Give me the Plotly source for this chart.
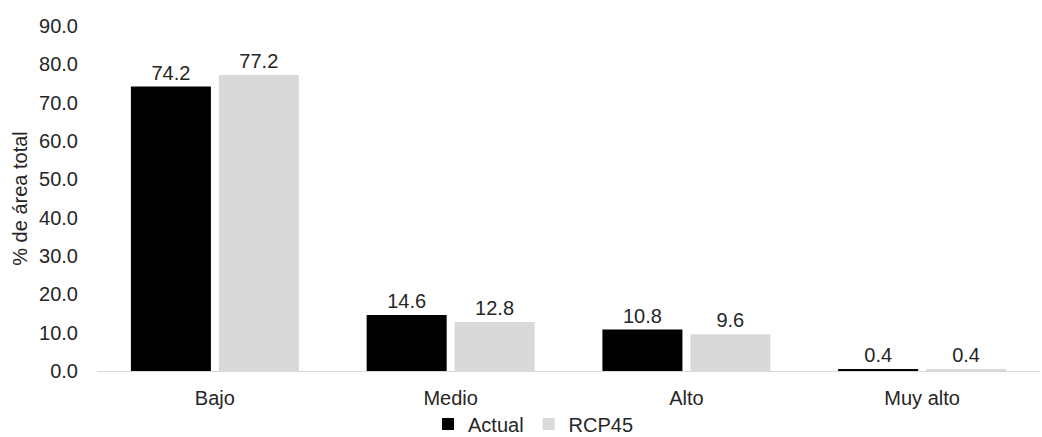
import plotly.graph_objects as go

# Categorías de peligro y porcentaje del área total por escenario
categorias = ["Bajo", "Medio", "Alto", "Muy alto"]
actual = [74.2, 14.6, 10.8, 0.4]
rcp45 = [77.2, 12.8, 9.6, 0.4]

FONT = "Liberation Sans, Arial, sans-serif"
FS = 20
TXT = "#262626"

fig = go.Figure()
fig.add_trace(go.Bar(
    name="Actual", x=categorias, y=actual,
    marker=dict(color="#000000", line=dict(width=0)),
    text=[f"{v:.1f}" for v in actual], textposition="outside",
    textfont=dict(color=TXT, size=FS, family=FONT),
    cliponaxis=False,
))
fig.add_trace(go.Bar(
    name="RCP45", x=categorias, y=rcp45,
    marker=dict(color="#d9d9d9", line=dict(width=0)),
    text=[f"{v:.1f}" for v in rcp45], textposition="outside",
    textfont=dict(color=TXT, size=FS, family=FONT),
    cliponaxis=False,
))

fig.update_layout(
    width=1042, height=437,
    margin=dict(l=97, r=2, t=26, b=66, autoexpand=False),
    paper_bgcolor="white", plot_bgcolor="white",
    font=dict(family=FONT, size=FS, color=TXT),
    barmode="group", bargap=0.254, bargroupgap=0.09,
    showlegend=True,
    legend=dict(
        orientation="h", xref="container", yref="container",
        x=0.512, xanchor="center", y=0.03, yanchor="middle",
        bgcolor="rgba(0,0,0,0)",
        font=dict(size=FS, color=TXT),
        itemwidth=30, tracegroupgap=0,
    ),
)
fig.update_xaxes(
    showline=True, linecolor="#d9d9d9", linewidth=1,
    showgrid=False, ticks="outside", ticklen=9, tickcolor="white",
    tickfont=dict(size=FS, color=TXT),
)
fig.update_yaxes(
    range=[0, 90], dtick=10, tickformat=".1f",
    showgrid=False, zeroline=False, showline=False,
    ticks="outside", ticklen=14, tickcolor="white",
    tickfont=dict(size=FS, color=TXT),
    title=dict(text="% de área total", font=dict(size=FS, color=TXT), standoff=6),
)

fig.write_html("out.html")
